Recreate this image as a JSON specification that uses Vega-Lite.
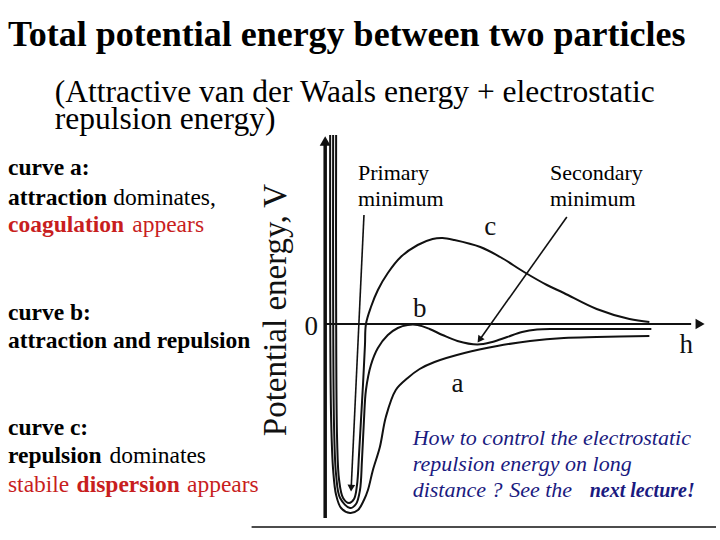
{
  "$schema": "https://vega.github.io/schema/vega-lite/v6.json",
  "width": 720,
  "height": 540,
  "autosize": {"type": "fit", "contains": "padding"},
  "padding": 0,
  "background": "white",
  "config": {"view": {"stroke": null}, "text": {"font": "Liberation Serif, Times New Roman, Times, serif"}},
  "datasets": {
    "curves": [
      {"curve":"a","i":0,"h":0.125,"V":4.725},{"curve":"a","i":1,"h":0.125,"V":0.6},{"curve":"a","i":2,"h":0.15,"V":-2.4},{"curve":"a","i":3,"h":0.2,"V":-3.65},{"curve":"a","i":4,"h":0.275,"V":-4.275},{"curve":"a","i":5,"h":0.4,"V":-4.6},{"curve":"a","i":6,"h":0.625,"V":-4.725},{"curve":"a","i":7,"h":0.825,"V":-4.65},{"curve":"a","i":8,"h":0.975,"V":-4.4},{"curve":"a","i":9,"h":1.075,"V":-4.15},{"curve":"a","i":10,"h":1.2,"V":-3.65},{"curve":"a","i":11,"h":1.375,"V":-3.075},{"curve":"a","i":12,"h":1.525,"V":-2.325},{"curve":"a","i":13,"h":1.775,"V":-1.65},{"curve":"a","i":14,"h":2.075,"V":-1.35},{"curve":"a","i":15,"h":2.375,"V":-1.125},{"curve":"a","i":16,"h":2.75,"V":-0.95},{"curve":"a","i":17,"h":3.5,"V":-0.725},{"curve":"a","i":18,"h":4.325,"V":-0.55},{"curve":"a","i":19,"h":5.15,"V":-0.425},{"curve":"a","i":20,"h":6.0,"V":-0.35},{"curve":"a","i":21,"h":6.825,"V":-0.325},{"curve":"a","i":22,"h":8.15,"V":-0.3},
      {"curve":"b","i":0,"h":0.2,"V":4.725},{"curve":"b","i":1,"h":0.2,"V":0.6},{"curve":"b","i":2,"h":0.225,"V":-2.65},{"curve":"b","i":3,"h":0.275,"V":-3.775},{"curve":"b","i":4,"h":0.375,"V":-4.35},{"curve":"b","i":5,"h":0.625,"V":-4.6},{"curve":"b","i":6,"h":0.775,"V":-4.5},{"curve":"b","i":7,"h":0.875,"V":-4.15},{"curve":"b","i":8,"h":0.925,"V":-3.4},{"curve":"b","i":9,"h":0.975,"V":-2.4},{"curve":"b","i":10,"h":1.025,"V":-1.65},{"curve":"b","i":11,"h":1.15,"V":-1.025},{"curve":"b","i":12,"h":1.325,"V":-0.6},{"curve":"b","i":13,"h":1.575,"V":-0.275},{"curve":"b","i":14,"h":1.825,"V":-0.1},{"curve":"b","i":15,"h":2.075,"V":-0.025},{"curve":"b","i":16,"h":2.325,"V":-0.025},{"curve":"b","i":17,"h":2.625,"V":-0.125},{"curve":"b","i":18,"h":2.95,"V":-0.275},{"curve":"b","i":19,"h":3.325,"V":-0.425},{"curve":"b","i":20,"h":3.825,"V":-0.5125},{"curve":"b","i":21,"h":4.2,"V":-0.45},{"curve":"b","i":22,"h":4.575,"V":-0.325},{"curve":"b","i":23,"h":4.95,"V":-0.2},{"curve":"b","i":24,"h":5.325,"V":-0.1375},{"curve":"b","i":25,"h":5.825,"V":-0.125},{"curve":"b","i":26,"h":8.2,"V":-0.125},
      {"curve":"c","i":0,"h":0.275,"V":4.725},{"curve":"c","i":1,"h":0.275,"V":0.6},{"curve":"c","i":2,"h":0.3,"V":-2.9},{"curve":"c","i":3,"h":0.35,"V":-3.9},{"curve":"c","i":4,"h":0.45,"V":-4.35},{"curve":"c","i":5,"h":0.6,"V":-4.475},{"curve":"c","i":6,"h":0.725,"V":-4.375},{"curve":"c","i":7,"h":0.8,"V":-4.025},{"curve":"c","i":8,"h":0.85,"V":-3.275},{"curve":"c","i":9,"h":0.9,"V":-2.4},{"curve":"c","i":10,"h":0.95,"V":-1.525},{"curve":"c","i":11,"h":1.0,"V":-0.525},{"curve":"c","i":12,"h":1.025,"V":0},{"curve":"c","i":13,"h":1.15,"V":0.425},{"curve":"c","i":14,"h":1.325,"V":0.85},{"curve":"c","i":15,"h":1.575,"V":1.275},{"curve":"c","i":16,"h":1.9,"V":1.675},{"curve":"c","i":17,"h":2.325,"V":1.975},{"curve":"c","i":18,"h":2.7,"V":2.125},{"curve":"c","i":19,"h":2.95,"V":2.15},{"curve":"c","i":20,"h":3.25,"V":2.1},{"curve":"c","i":21,"h":3.9,"V":1.925},{"curve":"c","i":22,"h":4.4,"V":1.675},{"curve":"c","i":23,"h":5.0,"V":1.3},{"curve":"c","i":24,"h":5.575,"V":0.975},{"curve":"c","i":25,"h":6.0,"V":0.775},{"curve":"c","i":26,"h":6.825,"V":0.375},{"curve":"c","i":27,"h":7.65,"V":0.125},{"curve":"c","i":28,"h":8.15,"V":0.05}
    ],
    "lines": [
      {"id":"vaxis","i":0,"h":0,"V":-4.85},{"id":"vaxis","i":1,"h":0,"V":4.5},
      {"id":"haxis","i":0,"h":0,"V":0},{"id":"haxis","i":1,"h":9.2,"V":0},
      {"id":"arrowP","i":0,"h":0.975,"V":2.725},{"id":"arrowP","i":1,"h":0.655,"V":-4.075},
      {"id":"arrowS","i":0,"h":6.075,"V":2.675},{"id":"arrowS","i":1,"h":3.897,"V":-0.373},
      {"id":"rule","i":0,"h":-1.85,"V":-5.075},{"id":"rule","i":1,"h":9.825,"V":-5.075}
    ],
    "heads": [
      {"id":"top","h":0,"V":4.575},
      {"id":"right","h":9.425,"V":0},
      {"id":"pHead","h":0.655,"V":-4.075},
      {"id":"sHead","h":3.897,"V":-0.373}
    ],
    "texts": [
      {"g":"title","t":"Total potential energy between two particles","h":-7.975,"V":6.95},
      {"g":"sub","t":"(Attractive van der Waals energy + electrostatic","h":-6.8,"V":5.5625},
      {"g":"sub","t":"repulsion energy)","h":-6.8,"V":4.875},
      {"g":"bold","t":"curve a:","h":-7.975,"V":3.725},
      {"g":"bold","t":"attraction","h":-7.975,"V":2.975},
      {"g":"reg","t":"dominates,","h":-5.325,"V":2.975},
      {"g":"redBold","t":"coagulation","h":-7.975,"V":2.3},
      {"g":"red","t":"appears","h":-4.85,"V":2.3},
      {"g":"bold","t":"curve b:","h":-7.975,"V":0.1},
      {"g":"bold","t":"attraction and repulsion","h":-7.975,"V":-0.6},
      {"g":"bold","t":"curve c:","h":-7.975,"V":-2.775},
      {"g":"bold","t":"repulsion","h":-7.975,"V":-3.475},
      {"g":"reg","t":"dominates","h":-5.425,"V":-3.475},
      {"g":"red","t":"stabile","h":-7.975,"V":-4.2},
      {"g":"redBold","t":"dispersion","h":-6.25,"V":-4.2},
      {"g":"red","t":"appears","h":-3.475,"V":-4.2},
      {"g":"note","t":"Primary","h":0.825,"V":3.6},
      {"g":"note","t":"minimum","h":0.825,"V":2.95},
      {"g":"note","t":"Secondary","h":5.65,"V":3.6},
      {"g":"note","t":"minimum","h":5.65,"V":2.95},
      {"g":"letter","t":"c","h":4.15,"V":2.225},
      {"g":"letter","t":"b","h":2.375,"V":0.175},
      {"g":"letter","t":"a","h":3.325,"V":-1.7},
      {"g":"letter","t":"0","h":-0.35,"V":-0.275},
      {"g":"letter","t":"h","h":9.075,"V":-0.725},
      {"g":"ylabel","t":"Potential energy, V","h":-1.225,"V":0.35},
      {"g":"blue","t":"How to control the electrostatic","h":2.2,"V":-3.025},
      {"g":"blue","t":"repulsion energy on long","h":2.2,"V":-3.675},
      {"g":"blue","t":"distance ?","h":2.2,"V":-4.325},
      {"g":"blue","t":"See the","h":4.625,"V":-4.325},
      {"g":"blueBold","t":"next lecture!","h":6.65,"V":-4.325}
    ]
  },
  "encoding": {
    "x": {"field": "h", "type": "quantitative", "scale": {"domain": [-8.175, 9.825], "nice": false, "zero": false}, "axis": null},
    "y": {"field": "V", "type": "quantitative", "scale": {"domain": [-5.4, 8.1], "nice": false, "zero": false}, "axis": null}
  },
  "layer": [
    {
      "data": {"name": "curves"},
      "mark": {"type": "line", "interpolate": "catmull-rom", "color": "#111111", "strokeWidth": 2},
      "encoding": {"detail": {"field": "curve"}, "order": {"field": "i", "type": "quantitative"}}
    },
    {
      "data": {"name": "lines"},
      "transform": [{"filter": "datum.id === 'vaxis'"}],
      "mark": {"type": "line", "color": "#111111", "strokeWidth": 3.5},
      "encoding": {"order": {"field": "i", "type": "quantitative"}}
    },
    {
      "data": {"name": "lines"},
      "transform": [{"filter": "datum.id === 'haxis'"}],
      "mark": {"type": "line", "color": "#111111", "strokeWidth": 2.2},
      "encoding": {"order": {"field": "i", "type": "quantitative"}}
    },
    {
      "data": {"name": "lines"},
      "transform": [{"filter": "datum.id === 'arrowP' || datum.id === 'arrowS' || datum.id === 'rule'"}],
      "mark": {"type": "line", "color": "#111111", "strokeWidth": 1.6},
      "encoding": {"detail": {"field": "id"}, "order": {"field": "i", "type": "quantitative"}}
    },
    {
      "data": {"name": "heads"},
      "transform": [{"filter": "datum.id === 'top'"}],
      "mark": {"type": "point", "shape": "triangle-up", "filled": true, "color": "#111111", "size": 120, "opacity": 1}
    },
    {
      "data": {"name": "heads"},
      "transform": [{"filter": "datum.id === 'right'"}],
      "mark": {"type": "point", "shape": "triangle-right", "filled": true, "color": "#111111", "size": 110, "opacity": 1}
    },
    {
      "data": {"name": "heads"},
      "transform": [{"filter": "datum.id === 'pHead'"}],
      "mark": {"type": "point", "shape": "triangle", "filled": true, "color": "#111111", "size": 60, "angle": 182.7, "opacity": 1}
    },
    {
      "data": {"name": "heads"},
      "transform": [{"filter": "datum.id === 'sHead'"}],
      "mark": {"type": "point", "shape": "triangle", "filled": true, "color": "#111111", "size": 60, "angle": 215.5, "opacity": 1}
    },
    {
      "data": {"name": "texts"},
      "transform": [{"filter": "datum.g === 'title'"}],
      "mark": {"type": "text", "font": "Liberation Serif, Times New Roman, Times, serif", "fontWeight": "bold", "fontSize": 36, "align": "left", "baseline": "alphabetic", "color": "#000000"},
      "encoding": {"text": {"field": "t"}}
    },
    {
      "data": {"name": "texts"},
      "transform": [{"filter": "datum.g === 'sub'"}],
      "mark": {"type": "text", "font": "Liberation Serif, Times New Roman, Times, serif", "fontSize": 31.5, "align": "left", "baseline": "alphabetic", "color": "#000000"},
      "encoding": {"text": {"field": "t"}}
    },
    {
      "data": {"name": "texts"},
      "transform": [{"filter": "datum.g === 'bold'"}],
      "mark": {"type": "text", "font": "Liberation Serif, Times New Roman, Times, serif", "fontWeight": "bold", "fontSize": 23.5, "align": "left", "baseline": "alphabetic", "color": "#000000"},
      "encoding": {"text": {"field": "t"}}
    },
    {
      "data": {"name": "texts"},
      "transform": [{"filter": "datum.g === 'reg'"}],
      "mark": {"type": "text", "font": "Liberation Serif, Times New Roman, Times, serif", "fontSize": 23.5, "align": "left", "baseline": "alphabetic", "color": "#000000"},
      "encoding": {"text": {"field": "t"}}
    },
    {
      "data": {"name": "texts"},
      "transform": [{"filter": "datum.g === 'redBold'"}],
      "mark": {"type": "text", "font": "Liberation Serif, Times New Roman, Times, serif", "fontWeight": "bold", "fontSize": 23.5, "align": "left", "baseline": "alphabetic", "color": "#c81e1e"},
      "encoding": {"text": {"field": "t"}}
    },
    {
      "data": {"name": "texts"},
      "transform": [{"filter": "datum.g === 'red'"}],
      "mark": {"type": "text", "font": "Liberation Serif, Times New Roman, Times, serif", "fontSize": 23.5, "align": "left", "baseline": "alphabetic", "color": "#c81e1e"},
      "encoding": {"text": {"field": "t"}}
    },
    {
      "data": {"name": "texts"},
      "transform": [{"filter": "datum.g === 'note'"}],
      "mark": {"type": "text", "font": "Liberation Serif, Times New Roman, Times, serif", "fontSize": 22, "align": "left", "baseline": "alphabetic", "color": "#000000"},
      "encoding": {"text": {"field": "t"}}
    },
    {
      "data": {"name": "texts"},
      "transform": [{"filter": "datum.g === 'letter'"}],
      "mark": {"type": "text", "font": "Liberation Serif, Times New Roman, Times, serif", "fontSize": 27, "align": "center", "baseline": "alphabetic", "color": "#111111"},
      "encoding": {"text": {"field": "t"}}
    },
    {
      "data": {"name": "texts"},
      "transform": [{"filter": "datum.g === 'ylabel'"}],
      "mark": {"type": "text", "font": "Liberation Serif, Times New Roman, Times, serif", "fontSize": 33, "align": "center", "baseline": "middle", "angle": 270, "color": "#111111"},
      "encoding": {"text": {"field": "t"}}
    },
    {
      "data": {"name": "texts"},
      "transform": [{"filter": "datum.g === 'blue'"}],
      "mark": {"type": "text", "font": "Liberation Serif, Times New Roman, Times, serif", "fontStyle": "italic", "fontSize": 22, "align": "left", "baseline": "alphabetic", "color": "#1a1a80"},
      "encoding": {"text": {"field": "t"}}
    },
    {
      "data": {"name": "texts"},
      "transform": [{"filter": "datum.g === 'blueBold'"}],
      "mark": {"type": "text", "font": "Liberation Serif, Times New Roman, Times, serif", "fontStyle": "italic", "fontWeight": "bold", "fontSize": 20, "align": "left", "baseline": "alphabetic", "color": "#1a1a80"},
      "encoding": {"text": {"field": "t"}}
    }
  ]
}
